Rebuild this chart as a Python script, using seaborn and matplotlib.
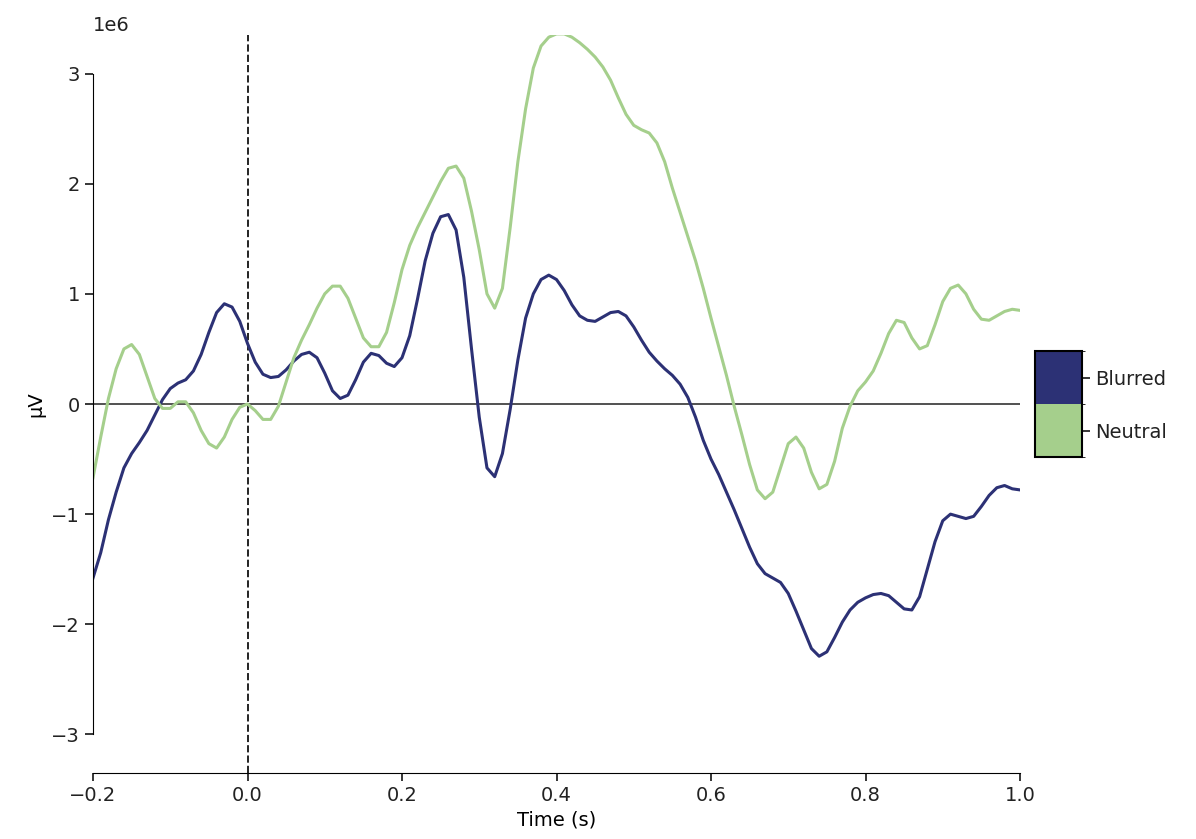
import numpy as np
import pandas as pd
import matplotlib
matplotlib.use("Agg")
import matplotlib.pyplot as plt
from matplotlib.colors import ListedColormap, BoundaryNorm
import seaborn as sns

# Data (values in units of 1e6 uV)
times = [round(-0.20 + 0.01 * i, 2) for i in range(121)]

blurred = [
    -1.58, -1.35, -1.05, -0.80, -0.58, -0.45, -0.35, -0.24, -0.10, 0.04,
    0.14, 0.19, 0.22, 0.30, 0.45, 0.65, 0.83, 0.91, 0.88, 0.75,
    0.55, 0.38, 0.27, 0.24, 0.25, 0.31, 0.39, 0.45, 0.47, 0.42,
    0.28, 0.12, 0.05, 0.08, 0.22, 0.38, 0.46, 0.44, 0.37, 0.34,
    0.42, 0.62, 0.95, 1.30, 1.55, 1.70, 1.72, 1.58, 1.15, 0.50,
    -0.12, -0.58, -0.66, -0.45, -0.05, 0.40, 0.78, 1.00, 1.13, 1.17,
    1.13, 1.03, 0.90, 0.80, 0.76, 0.75, 0.79, 0.83, 0.84, 0.80,
    0.70, 0.58, 0.47, 0.39, 0.32, 0.26, 0.18, 0.06, -0.12, -0.33,
    -0.50, -0.64, -0.80, -0.96, -1.13, -1.30, -1.45, -1.54, -1.58, -1.62,
    -1.72, -1.88, -2.05, -2.22, -2.29, -2.25, -2.12, -1.98, -1.87, -1.80,
    -1.76, -1.73, -1.72, -1.74, -1.80, -1.86, -1.87, -1.75, -1.50, -1.25,
    -1.06, -1.00, -1.02, -1.04, -1.02, -0.93, -0.83, -0.76, -0.74, -0.77,
    -0.78,
]

neutral = [
    -0.67, -0.30, 0.05, 0.32, 0.50, 0.54, 0.45, 0.25, 0.05, -0.04,
    -0.04, 0.02, 0.02, -0.08, -0.24, -0.36, -0.40, -0.30, -0.14, -0.03,
    0.00, -0.06, -0.14, -0.14, -0.02, 0.20, 0.42, 0.58, 0.72, 0.87,
    1.00, 1.07, 1.07, 0.96, 0.78, 0.60, 0.52, 0.52, 0.65, 0.92,
    1.22, 1.44, 1.60, 1.74, 1.88, 2.02, 2.14, 2.16, 2.05, 1.75,
    1.40, 1.00, 0.87, 1.05, 1.60, 2.20, 2.68, 3.05, 3.25, 3.33,
    3.36, 3.36, 3.33, 3.28, 3.22, 3.15, 3.06, 2.94, 2.78, 2.63,
    2.53, 2.49, 2.46, 2.37, 2.20, 1.96, 1.74, 1.52, 1.30, 1.05,
    0.78, 0.52, 0.26, -0.02, -0.28, -0.55, -0.78, -0.86, -0.80, -0.58,
    -0.36, -0.30, -0.40, -0.62, -0.77, -0.73, -0.52, -0.22, -0.02, 0.12,
    0.20, 0.30, 0.46, 0.64, 0.76, 0.74, 0.60, 0.50, 0.53, 0.72,
    0.93, 1.05, 1.08, 1.00, 0.86, 0.77, 0.76, 0.80, 0.84, 0.86,
    0.85,
]

conditions = ["Blurred", "Neutral"]
colors = ["#2c3175", "#a5cf8c"]

df = pd.DataFrame({
    "time": times * 2,
    "value": np.array(blurred + neutral) * 1e6,
    "condition": ["Blurred"] * len(times) + ["Neutral"] * len(times),
})

plt.rcParams["font.size"] = 14
plt.rcParams["text.color"] = "#222222"
plt.rcParams["xtick.labelcolor"] = "#222222"
plt.rcParams["ytick.labelcolor"] = "#222222"
fig = plt.figure(figsize=(11.96, 8.39), dpi=100)
ax = fig.add_axes([93 / 1196, 66 / 839, 927 / 1196, 738 / 839])

sns.lineplot(data=df, x="time", y="value", hue="condition",
             palette=dict(zip(conditions, colors)), linewidth=2.2,
             legend=False, ax=ax)

ax.axhline(0, color="#333333", linewidth=1.2, zorder=1)
ax.axvline(0, color="#222222", linestyle="--", linewidth=1.4, zorder=1)

ax.set_xlim(-0.2, 1.0)
ax.set_ylim(-3.35e6, 3.35e6)
ax.set_xticks([-0.2, 0.0, 0.2, 0.4, 0.6, 0.8, 1.0])
ax.set_yticks([-3e6, -2e6, -1e6, 0, 1e6, 2e6, 3e6])
ax.set_xlabel("Time (s)")
ax.set_ylabel("µV")
ax.tick_params(length=6, width=1.1)

sns.despine(ax=ax)
ax.spines["left"].set_bounds(-3e6, 3e6)
ax.spines["bottom"].set_bounds(-0.2, 1.0)

# categorical colorbar legend
cax = fig.add_axes([1035 / 1196, (839 - 457) / 839, 47 / 1196, 106 / 839])
cmap = ListedColormap(colors[::-1])
norm = BoundaryNorm([0, 1, 2], cmap.N)
cb = fig.colorbar(plt.cm.ScalarMappable(norm=norm, cmap=cmap), cax=cax)
cb.set_ticks([1.5, 0.5])
cb.set_ticklabels(conditions)
cb.outline.set_linewidth(1.5)
cb.ax.tick_params(length=6, width=1.1)

plt.savefig("out.png", dpi=100)
